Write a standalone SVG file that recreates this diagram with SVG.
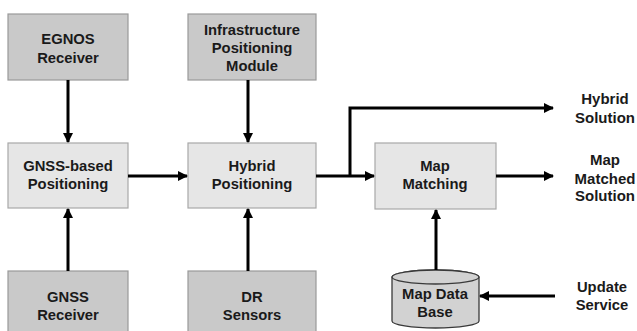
<svg xmlns="http://www.w3.org/2000/svg" width="637" height="331" viewBox="0 0 637 331">
<style>
.dark{fill:#c9c9c9;stroke:#9a9a9a;stroke-width:1.2}
.light{fill:#e6e6e6;stroke:#a8a8a8;stroke-width:1.2}
.db{fill:#d2d2d2;stroke:#3a3a3a;stroke-width:1.3}
text{font-family:"Liberation Sans",Arial,sans-serif;font-weight:bold;font-size:14.8px;fill:#1a1a1a;text-anchor:middle}
.out{font-size:15px}
.c{fill:none;stroke:#000;stroke-width:3}
</style>
<defs>
<marker id="ah" markerWidth="10" markerHeight="10" refX="9" refY="5" orient="auto" markerUnits="userSpaceOnUse">
<path d="M0,0 L10,5 L0,10 Z" fill="#000"/>
</marker>
</defs>
<rect width="637" height="331" fill="#fff"/>
<g id="egnos">
<rect class="dark" x="8" y="14" width="120" height="66"/>
<text x="68" y="44">EGNOS</text>
<text x="68" y="63">Receiver</text>
</g>
<g id="infra">
<rect class="dark" x="188" y="14" width="128" height="66"/>
<text x="252" y="35">Infrastructure</text>
<text x="252" y="53">Positioning</text>
<text x="252" y="71">Module</text>
</g>
<g id="gnssbased">
<rect class="light" x="8" y="143" width="120" height="65"/>
<text x="68" y="171">GNSS-based</text>
<text x="68" y="189">Positioning</text>
</g>
<g id="hybrid">
<rect class="light" x="188" y="143" width="128" height="65"/>
<text x="252" y="171">Hybrid</text>
<text x="252" y="189">Positioning</text>
</g>
<g id="mapmatching">
<rect class="light" x="375" y="143" width="121" height="66"/>
<text x="435" y="171">Map</text>
<text x="435" y="189">Matching</text>
</g>
<g id="gnssreceiver">
<rect class="dark" x="8" y="271" width="120" height="68"/>
<text x="68" y="302">GNSS</text>
<text x="68" y="320">Receiver</text>
</g>
<g id="dr">
<rect class="dark" x="188" y="271" width="128" height="68"/>
<text x="252" y="302">DR</text>
<text x="252" y="320">Sensors</text>
</g>
<g id="mapdb">
<path class="db" d="M392,277 L392,321 A43.5,7 0 0 0 479,321 L479,277 A43.5,7 0 0 0 392,277 Z"/>
<ellipse class="db" cx="435.5" cy="277" rx="43.5" ry="7"/>
<text x="435" y="299">Map Data</text>
<text x="435" y="317">Base</text>
</g>
<g id="hybridsolution">
<text class="out" x="605" y="104">Hybrid</text>
<text class="out" x="605" y="123">Solution</text>
</g>
<g id="mapmatchedsolution">
<text class="out" x="605" y="165">Map</text>
<text class="out" x="605" y="184">Matched</text>
<text class="out" x="605" y="201">Solution</text>
</g>
<g id="updateservice">
<text x="602" y="292">Update</text>
<text x="602" y="310">Service</text>
</g>
<g id="connectors">
<path class="c" d="M68,80 L68,142" marker-end="url(#ah)"/>
<path class="c" d="M248,80 L248,142" marker-end="url(#ah)"/>
<path class="c" d="M68,271 L68,209" marker-end="url(#ah)"/>
<path class="c" d="M248,271 L248,209" marker-end="url(#ah)"/>
<path class="c" d="M128,176 L187,176" marker-end="url(#ah)"/>
<path class="c" d="M316,176 L374,176" marker-end="url(#ah)"/>
<path class="c" d="M350,176 L350,108 L553,108" marker-end="url(#ah)"/>
<path class="c" d="M496,176 L553,176" marker-end="url(#ah)"/>
<path class="c" d="M436,270 L436,210" marker-end="url(#ah)"/>
<path class="c" d="M555,296 L480,296" marker-end="url(#ah)"/>
</g>
</svg>
